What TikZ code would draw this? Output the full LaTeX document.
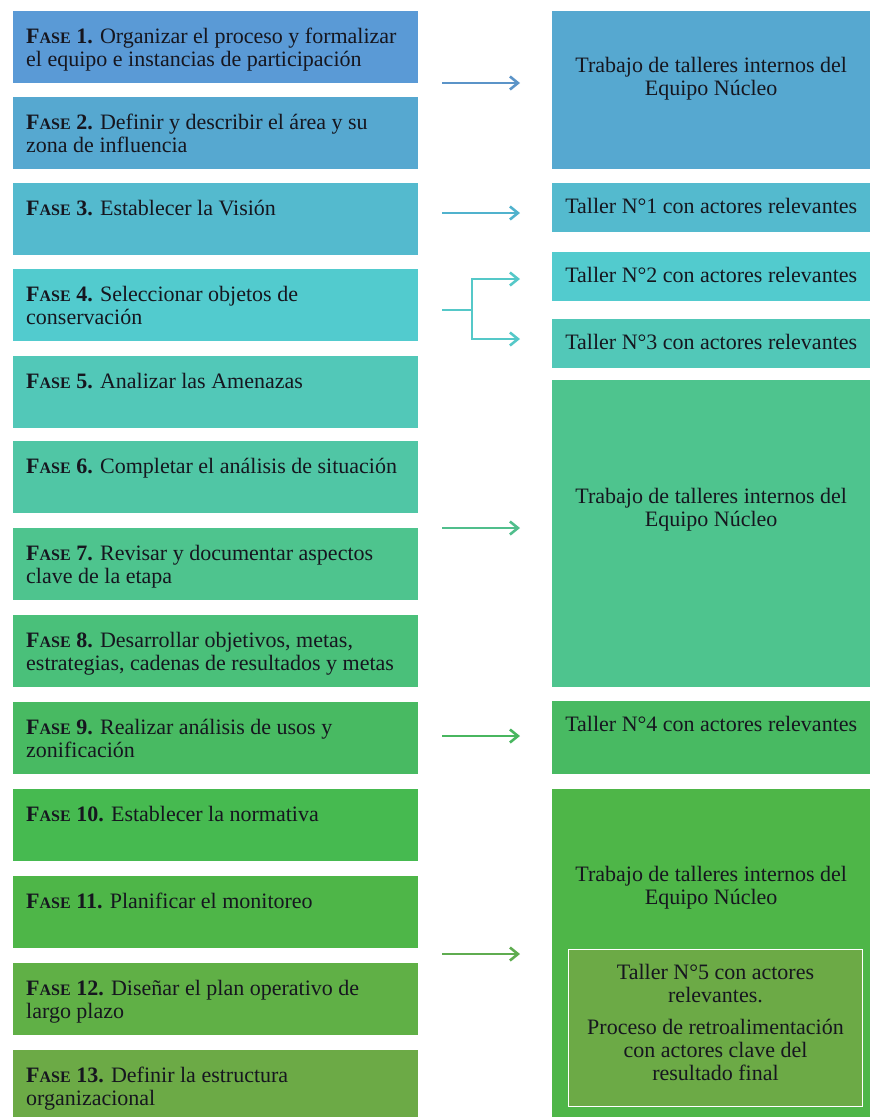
\documentclass[tikz,border=0pt]{standalone}
\usepackage{fontspec}
\setmainfont{Liberation Serif}
\usetikzlibrary{arrows.meta}

% fills of the phase column (blue to green)
\definecolor{cF1}{HTML}{5A9AD6}
\definecolor{cF2}{HTML}{56A8D0}
\definecolor{cF3}{HTML}{54BACE}
\definecolor{cF4}{HTML}{52CBCE}
\definecolor{cF5}{HTML}{52C8B8}
\definecolor{cF6}{HTML}{50C6A5}
\definecolor{cF7}{HTML}{4EC48E}
\definecolor{cF8}{HTML}{4AC07A}
\definecolor{cF9}{HTML}{48BA62}
\definecolor{cF10}{HTML}{46BA50}
\definecolor{cF11}{HTML}{4EB648}
\definecolor{cF12}{HTML}{60B046}
\definecolor{cF13}{HTML}{6CAA46}
% connector colours
\definecolor{cA1}{HTML}{5B94C8}
\definecolor{cA3}{HTML}{50B2CD}
\definecolor{cA4}{HTML}{55C8C8}
\definecolor{cA7}{HTML}{50BE8C}
\definecolor{cA9}{HTML}{48B65F}
\definecolor{cA12}{HTML}{5FAC50}
\definecolor{txt}{HTML}{16161F}

\newcommand\fase[1]{\textbf{F{\fontsize{16}{16}\selectfont ASE} #1.}}
% left phase box: height, text
\newcommand\lbox[2]{\parbox[c][#1pt][t]{405pt}{\raggedright\leftskip=13pt\rule{0pt}{32pt}#2}}
% right box: height, width, first baseline, text
\newcommand\rbox[4]{\parbox[c][#1pt][t]{#2pt}{\centering\rule{0pt}{#3pt}#4}}

\tikzset{
  fase/.style={fill=#1, anchor=north west, inner sep=0pt, text=txt},
  wbox/.style={fill=#1, anchor=north west, inner sep=0pt, text=txt},
  link/.style={draw=#1, line width=2.6pt},
  arr/.style={link=#1, -{Straight Barb[length=8pt,width=13pt]}, shorten >=32pt},
}

\begin{document}
\begin{tikzpicture}[x=1pt, y=-1pt, font=\fontsize{22}{23}\selectfont]
\useasboundingbox (0,0) rectangle (870,1117);

% phases
\node[fase=cF1] (f1) at (13,11) {\lbox{72}{\fase{1} Organizar el proceso y formalizar\\el equipo e instancias de participación}};
\node[fase=cF2] (f2) at (13,97) {\lbox{72}{\fase{2} Definir y describir el área y su\\zona de influencia}};
\node[fase=cF3] (f3) at (13,183) {\lbox{72}{\fase{3} Establecer la Visión}};
\node[fase=cF4] (f4) at (13,269) {\lbox{72}{\fase{4} Seleccionar objetos de\\conservación}};
\node[fase=cF5] (f5) at (13,356) {\lbox{72}{\fase{5} Analizar las Amenazas}};
\node[fase=cF6] (f6) at (13,441) {\lbox{72}{\fase{6} Completar el análisis de situación}};
\node[fase=cF7] (f7) at (13,528) {\lbox{72}{\fase{7} Revisar y documentar aspectos\\clave de la etapa}};
\node[fase=cF8] (f8) at (13,615) {\lbox{72}{\fase{8} Desarrollar objetivos, metas,\\estrategias, cadenas de resultados y metas}};
\node[fase=cF9] (f9) at (13,702) {\lbox{72}{\fase{9} Realizar análisis de usos y\\zonificación}};
\node[fase=cF10] (f10) at (13,789) {\lbox{72}{\fase{10} Establecer la normativa}};
\node[fase=cF11] (f11) at (13,876) {\lbox{72}{\fase{11} Planificar el monitoreo}};
\node[fase=cF12] (f12) at (13,963) {\lbox{72}{\fase{12} Diseñar el plan operativo de\\largo plazo}};
\node[fase=cF13] (f13) at (13,1050) {\lbox{67}{\fase{13} Definir la estructura\\organizacional}};

% workshops
\node[wbox=cF2] (r1) at (552,11) {\rbox{158}{318}{61}{Trabajo de talleres internos del\\Equipo Núcleo}};
\node[wbox=cF3] (r2) at (552,183) {\rbox{49}{318}{30}{Taller N°1 con actores relevantes}};
\node[wbox=cF4] (r3) at (552,252) {\rbox{49}{318}{30}{Taller N°2 con actores relevantes}};
\node[wbox=cF5] (r4) at (552,319) {\rbox{49}{318}{30}{Taller N°3 con actores relevantes}};
\node[wbox=cF7] (r5) at (552,380) {\rbox{307}{318}{123}{Trabajo de talleres internos del\\Equipo Núcleo}};
\node[wbox=cF9] (r6) at (552,701) {\rbox{73}{318}{30}{Taller N°4 con actores relevantes}};
\node[wbox=cF11] (r7) at (552,789) {\rbox{328}{318}{92}{Trabajo de talleres internos del\\Equipo Núcleo}};
\node[wbox=cF13, draw=white, line width=1pt] (r8) at (568,949) {\rbox{157}{294}{30}{Taller N°5 con actores\\relevantes.\par\vspace{9pt}Proceso de retroalimentación\\con actores clave del\\resultado final}};

% connectors
\coordinate (s1) at (442,83);
\coordinate (s3) at (442,213);
\coordinate (s4) at (442,310);
\coordinate (fk) at (472,310);
\coordinate (fku) at (472,279);
\coordinate (fkd) at (472,339);
\coordinate (s7) at (442,528);
\coordinate (s9) at (442,736);
\coordinate (s12) at (442,954);

\draw[arr=cA1] (s1) -- (s1 -| r1.west);
\draw[arr=cA3] (s3) -- (s3 -| r2.west);
\draw[link=cA4] (s4) -- (fk);
\draw[arr=cA4] (fk) -- (fku) -- (fku -| r3.west);
\draw[arr=cA4] (fk) -- (fkd) -- (fkd -| r4.west);
\draw[arr=cA7] (s7) -- (s7 -| r5.west);
\draw[arr=cA9] (s9) -- (s9 -| r6.west);
\draw[arr=cA12] (s12) -- (s12 -| r7.west);
\end{tikzpicture}
\end{document}
